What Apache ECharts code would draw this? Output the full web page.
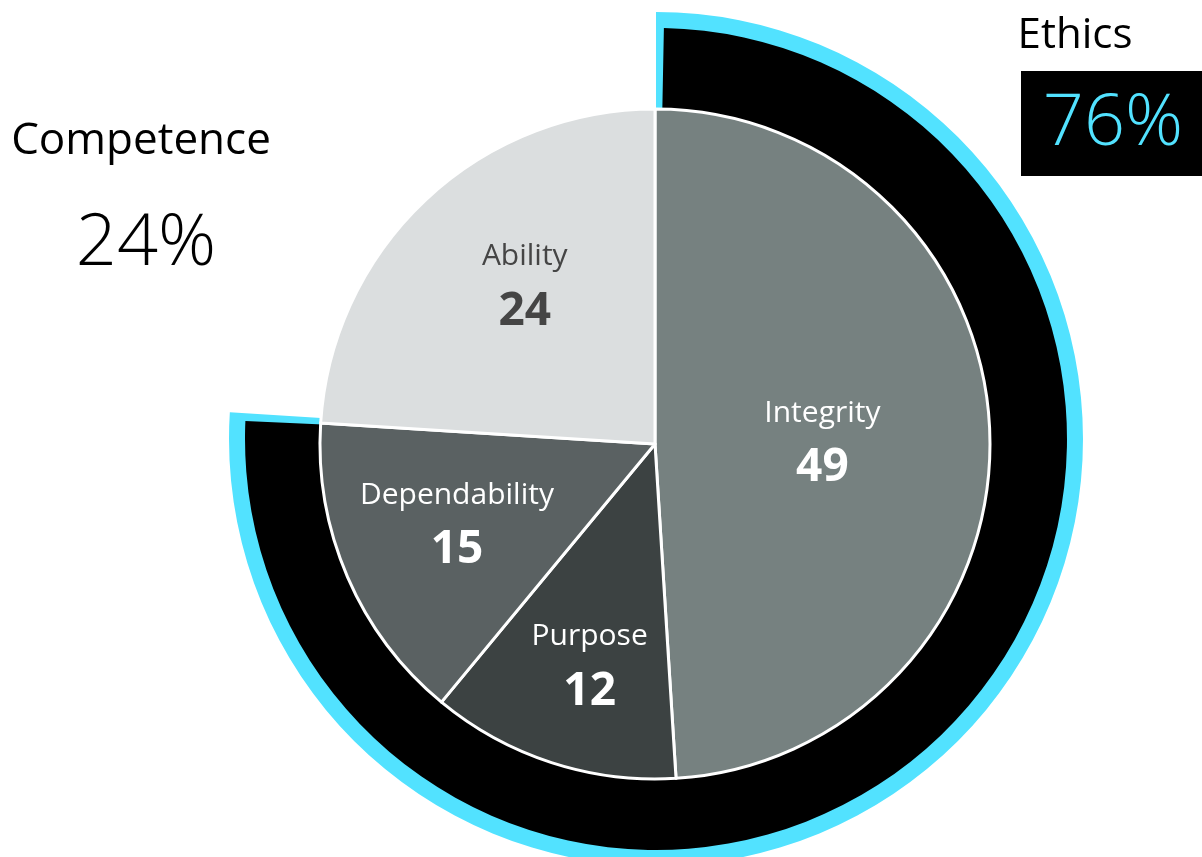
<!DOCTYPE html>
<html><head><meta charset="utf-8">
<script src="https://cdn.jsdelivr.net/npm/echarts@6/dist/echarts.min.js"></script>
<style>html,body{margin:0;padding:0;background:#fff;overflow:hidden}#c{width:1202px;height:857px}</style>
</head><body><div id="c"></div>
<script>
// ---- data ----
const categories = ['Integrity', 'Purpose', 'Dependability', 'Ability'];
const values = [49, 12, 15, 24];
const groupNames = ['Ethics', 'Competence'];
const groupValues = [76, 24];

// ---- styles ----
const sliceColors = ['#768180', '#3C4242', '#5A6162', '#DBDEDF'];
const darkLabel = [false, false, false, true];
const labelOffsets = [[-3, 2], [2, 13], [2, -8], [19, -1]];
const CYAN = '#52E2FF';
const FONT = '"Open Sans", "Noto Sans", sans-serif';

const chart = echarts.init(document.getElementById('c'), null, { renderer: 'canvas' });

const richStyles = {
  n: { fontFamily: FONT, fontSize: 30, color: '#FFFFFF', lineHeight: 55 },
  v: { fontFamily: FONT, fontSize: 46, fontWeight: 'bold', color: '#FFFFFF', lineHeight: 55 },
  nd: { fontFamily: FONT, fontSize: 30, color: '#454545', lineHeight: 55 },
  vd: { fontFamily: FONT, fontSize: 46, fontWeight: 'bold', color: '#454545', lineHeight: 55 }
};
const labelFormatter = p => {
  const d = darkLabel[p.dataIndex];
  return d ? `{nd|${p.name}}\n{vd|${p.value}}` : `{n|${p.name}}\n{v|${p.value}}`;
};

const pieData = categories.map((n, i) => ({
  name: n, value: values[i],
  itemStyle: { color: sliceColors[i] },
  label: { show: i === 0, offset: labelOffsets[i] }
}));
const labelData = categories.map((n, i) => ({
  name: n, value: values[i],
  label: { show: i !== 0, offset: labelOffsets[i] }
}));
const ringData = (color) => groupNames.map((n, i) => ({
  name: n, value: groupValues[i],
  itemStyle: { color: i === 0 ? color : 'rgba(0,0,0,0)' }
}));

const ringCenter = [656, 439];
const pieCenter = [655, 444];

chart.setOption({
  animation: false,
  series: [
    {
      type: 'pie', silent: true, center: ringCenter, radius: [300, 427],
      startAngle: 90, clockwise: true, label: { show: false }, labelLine: { show: false },
      emphasis: { disabled: true }, data: ringData(CYAN)
    },
    {
      type: 'pie', silent: true, center: ringCenter, radius: [300, 411],
      startAngle: 90, clockwise: true, padAngle: 2.2, label: { show: false }, labelLine: { show: false },
      emphasis: { disabled: true }, data: ringData('#000000')
    },
    {
      type: 'pie', silent: true, center: pieCenter, radius: [0, 335],
      startAngle: 90, clockwise: true,
      itemStyle: { borderColor: '#FFFFFF', borderWidth: 3 },
      label: { position: 'inside', formatter: labelFormatter, rich: richStyles },
      labelLine: { show: false },
      emphasis: { disabled: true }, data: pieData
    },
    {
      type: 'pie', silent: true, center: pieCenter, radius: [0, 430],
      startAngle: 90, clockwise: true,
      itemStyle: { color: 'rgba(0,0,0,0)' },
      label: { position: 'inside', formatter: labelFormatter, rich: richStyles },
      labelLine: { show: false },
      emphasis: { disabled: true }, data: labelData
    }
  ],
  graphic: [
    { type: 'rect', shape: { x: 1021, y: 71, width: 181, height: 105 }, style: { fill: '#000000' } },
    { type: 'text', x: 1075, y: 36, style: { text: groupNames[0], fontFamily: FONT, fontSize: 42, fill: '#000000', align: 'center', verticalAlign: 'middle' } },
    { type: 'text', x: 1113, y: 124, style: { text: groupValues[0] + '%', fontFamily: FONT, fontSize: 72, fontWeight: 300, fill: CYAN, align: 'center', verticalAlign: 'middle' } },
    { type: 'text', x: 146, y: 244, style: { text: groupValues[1] + '%', fontFamily: FONT, fontSize: 72, fontWeight: 300, fill: '#000000', align: 'center', verticalAlign: 'middle' } },
    { type: 'text', x: 141, y: 141, style: { text: groupNames[1], fontFamily: FONT, fontSize: 44, fill: '#000000', align: 'center', verticalAlign: 'middle' } }
  ]
});
</script></body></html>
